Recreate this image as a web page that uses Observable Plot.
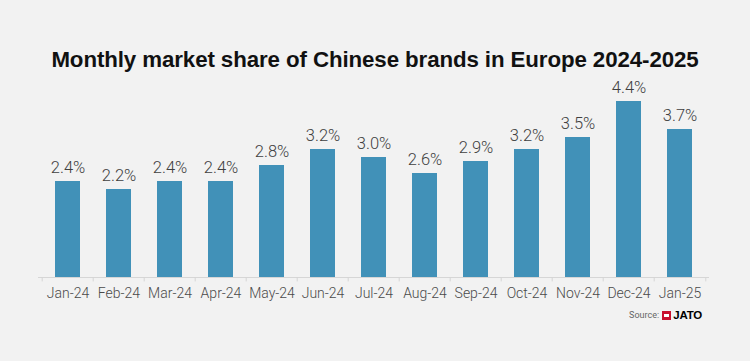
<!DOCTYPE html>
<html>
<head>
<meta charset="utf-8">
<script src="https://cdn.jsdelivr.net/npm/d3@7"></script>
<script src="https://cdn.jsdelivr.net/npm/@observablehq/plot@0.6"></script>
<style>
  html, body { margin: 0; padding: 0; background: #f2f2f2; }
  body { width: 750px; height: 361px; position: relative; overflow: hidden; font-family: Roboto, "Liberation Sans", sans-serif; }
  #title { position: absolute; left: 0; top: 45px; width: 750px; text-align: center; font-family: "Liberation Sans", Arial, sans-serif; font-weight: 700; font-size: 22.3px; color: #111; line-height: 30px; letter-spacing: -0.1px; }
  #chart { position: absolute; left: 0; top: 70px; }
  #source { position: absolute; right: 48px; top: 309px; display: flex; align-items: center; font-size: 9px; color: #666; font-family: Roboto, sans-serif; }
  #source .logo { display: inline-block; width: 9px; height: 9px; background: #c8102e; margin: 0 2px 0 3px; position: relative; }
  #source .logo::after { content: ""; position: absolute; left: 2px; top: 3px; width: 5px; height: 3px; background: #fff; }
  #source b { font-family: "Liberation Sans", Arial, sans-serif; font-weight: 700; font-size: 11.5px; color: #000; letter-spacing: -0.2px; }
</style>
</head>
<body>
<div id="title">Monthly market share of Chinese brands in Europe 2024-2025</div>
<div id="chart"></div>
<div id="source">Source:<span class="logo"></span><b>JATO</b></div>
<script>
const months = ["Jan-24","Feb-24","Mar-24","Apr-24","May-24","Jun-24","Jul-24","Aug-24","Sep-24","Oct-24","Nov-24","Dec-24","Jan-25"];
const shares = [2.4, 2.2, 2.4, 2.4, 2.8, 3.2, 3.0, 2.6, 2.9, 3.2, 3.5, 4.4, 3.7];
const shareLabels = ["2.4%","2.2%","2.4%","2.4%","2.8%","3.2%","3.0%","2.6%","2.9%","3.2%","3.5%","4.4%","3.7%"];

const data = months.map((m, i) => ({month: m, share: shares[i], label: shareLabels[i]}));

const W = 750, mL = 38, mR = 41;
const halfStep = (W - mL - mR) / months.length / 2;

const chart = Plot.plot({
  width: W,
  height: 240,
  marginTop: 31,
  marginBottom: 33,
  marginLeft: mL,
  marginRight: mR,
  style: { background: "transparent", fontFamily: "Roboto, sans-serif" },
  x: { domain: months, paddingInner: 0.51, paddingOuter: 0.255, align: 0.5, label: null },
  y: { domain: [0, 4.4], axis: null },
  marks: [
    Plot.ruleY([0], { stroke: "#d6d6d6", strokeWidth: 1 }),
    Plot.ruleX(months, { x: d => d, dx: -halfStep, y1: 0, y2: -0.11, stroke: "#d6d6d6" }),
    Plot.ruleX([months[months.length - 1]], { x: d => d, dx: halfStep, y1: 0, y2: -0.11, stroke: "#d6d6d6" }),
    Plot.barY(data, { x: "month", y: "share", fill: "#4191b8" }),
    Plot.text(data, { x: "month", y: "share", text: "label", dy: -14, fontSize: 16.5, fontWeight: 300, fill: "#404040" }),
    Plot.axisX({ tickSize: 0, tickPadding: 11, fontSize: 14, fontWeight: 300, fill: "#4a4a4a", label: null })
  ]
});

document.getElementById("chart").appendChild(chart);
</script>
</body>
</html>
